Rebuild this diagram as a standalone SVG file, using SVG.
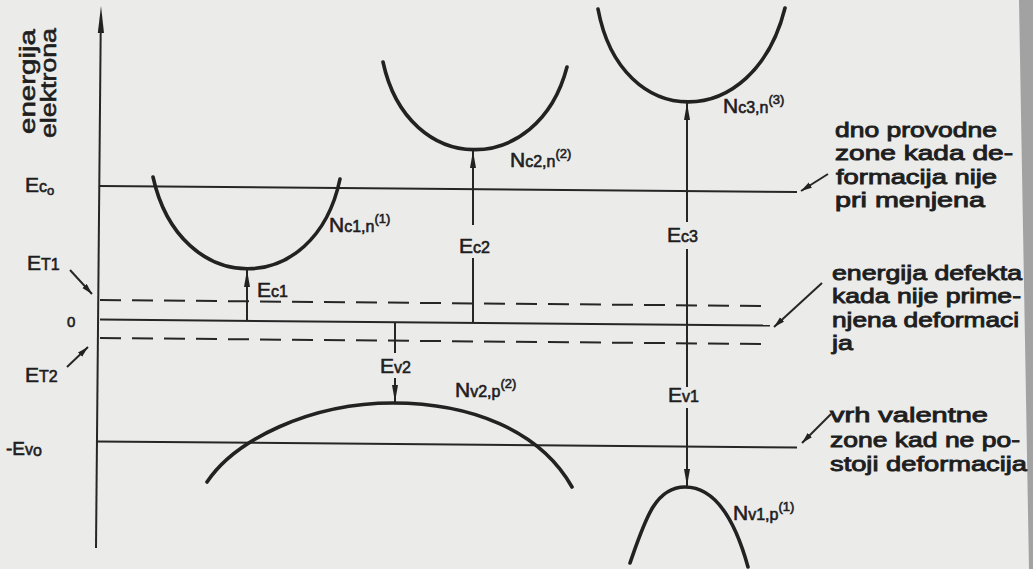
<svg xmlns="http://www.w3.org/2000/svg" width="1033" height="569" viewBox="0 0 1033 569">
<defs>
<style>
.ln{stroke:#262626;stroke-width:2;fill:none}
.ds{stroke-dasharray:21 11}
.cv{stroke:#222;stroke-width:3.6;fill:none;stroke-linecap:round}
.ar{stroke:#262626;stroke-width:2;fill:none}
.t{font-family:"Liberation Sans",Arial,sans-serif;fill:#1e1e1e;stroke:#1e1e1e;stroke-width:0.6}
.big{font-size:21px;stroke-width:0.9}
.E{font-size:21px}
.s{font-size:16px}
.sup{font-size:13px}
.z{font-size:15px}
</style>
<marker id="av" markerUnits="userSpaceOnUse" markerWidth="18" markerHeight="8" refX="17" refY="3.5" orient="auto">
<path d="M0,0.5 L17,3.5 L0,6.5 z" fill="#222"/>
</marker>
<marker id="as" markerUnits="userSpaceOnUse" markerWidth="12" markerHeight="7" refX="11" refY="3" orient="auto">
<path d="M0,0 L11,3 L0,6 z" fill="#222"/>
</marker>
</defs>
<rect width="1033" height="569" fill="#ebebea"/>
<polygon points="1019,0 1033,0 1033,569 1029,569" fill="#a2a2a2"/>

<g id="axis">
<path class="ln" d="M96,548 L100.7,30"/>
<polygon points="101,6 97.8,33 104,33" fill="#222"/>
<text class="t E" transform="translate(35,134) rotate(-90)" style="font-size:22px" textLength="105" lengthAdjust="spacingAndGlyphs">energija</text>
<text class="t E" transform="translate(56,138) rotate(-90)" style="font-size:22px" textLength="110" lengthAdjust="spacingAndGlyphs">elektrona</text>
</g>

<g id="levels">
<path class="ln" d="M100,186 L797,192"/>
<path class="ln ds" d="M100,300 L762,306"/>
<path class="ln" d="M100,319.5 L770,325.5"/>
<path class="ln ds" d="M100,338 L762,344"/>
<path class="ln" d="M97,441.5 L797,447.5"/>
<text class="t E" x="25" y="192">E<tspan class="s">c</tspan><tspan class="sup" dy="3">o</tspan></text>
<text class="t E" x="27" y="270">E<tspan class="s">T1</tspan></text>
<text class="t z" x="67" y="327">0</text>
<text class="t E" x="25" y="382">E<tspan class="s">T2</tspan></text>
<text class="t E" x="6" y="455" style="font-size:19px">-E<tspan class="s">v</tspan><tspan class="s" dy="1">o</tspan></text>
</g>

<g id="band-c1">
<path class="cv" d="M153,177 C180,299 315,299 340,179"/>
<text class="t E" x="329" y="232">N<tspan class="s">c1,n</tspan><tspan class="sup" dy="-9">(1)</tspan></text>
</g>
<g id="band-c2">
<path class="cv" d="M383,62 C408,178 538,178 567,67"/>
<text class="t E" x="510" y="167">N<tspan class="s">c2,n</tspan><tspan class="sup" dy="-9">(2)</tspan></text>
</g>
<g id="band-c3">
<path class="cv" d="M598,9 C621,133 754,133 785,8"/>
<text class="t E" x="723" y="113">N<tspan class="s">c3,n</tspan><tspan class="sup" dy="-9">(3)</tspan></text>
</g>
<g id="band-v2">
<path class="cv" d="M207,482 C235,440 310,403 393,403 C470,403 540,430 572,487"/>
<text class="t E" x="455" y="397">N<tspan class="s">v2,p</tspan><tspan class="sup" dy="-9">(2)</tspan></text>
</g>
<g id="band-v1">
<path class="cv" d="M630,563 C645,520 655,487 685,487 C715,487 735,520 748,567"/>
<text class="t E" x="733" y="520">N<tspan class="s">v1,p</tspan><tspan class="sup" dy="-9">(1)</tspan></text>
</g>

<g id="connectors">
<path class="ar" d="M247,320 L247,270" marker-end="url(#av)"/>
<path class="ar" d="M473,322 L473,258 M473,225 L473,151" marker-end="url(#av)"/>
<path class="ar" d="M687,387 L687,249 M687,222 L687,103" marker-end="url(#av)"/>
<path class="ar" d="M687,408 L687,486" marker-end="url(#av)"/>
<path class="ar" d="M395,322 L395,353 M395,378 L395,402" marker-end="url(#av)"/>
<path class="ar" d="M70,270 L92,294" marker-end="url(#as)"/>
<path class="ar" d="M67,367 L88,347" marker-end="url(#as)"/>
<path class="ar" d="M828,174 L801,191" marker-end="url(#as)"/>
<path class="ar" d="M822,283 L774,327" marker-end="url(#as)"/>
<path class="ar" d="M831,414 L802,443" marker-end="url(#as)"/>
</g>

<g id="gap-labels">
<text class="t E" x="257" y="297">E<tspan class="s">c1</tspan></text>
<text class="t E" x="459" y="253">E<tspan class="s">c2</tspan></text>
<text class="t E" x="667" y="242">E<tspan class="s">c3</tspan></text>
<text class="t E" x="668" y="402">E<tspan class="s">v1</tspan></text>
<text class="t E" x="380" y="373">E<tspan class="s">v2</tspan></text>
</g>

<g id="note-conduction">
<text class="t big" x="835" y="137" textLength="162" lengthAdjust="spacingAndGlyphs">dno provodne</text>
<text class="t big" x="835" y="160" textLength="178" lengthAdjust="spacingAndGlyphs">zone kada de-</text>
<text class="t big" x="836" y="184" textLength="161" lengthAdjust="spacingAndGlyphs">formacija nije</text>
<text class="t big" x="835" y="207" textLength="150" lengthAdjust="spacingAndGlyphs">pri menjena</text>
</g>
<g id="note-defect">
<text class="t big" x="832" y="280" textLength="190" lengthAdjust="spacingAndGlyphs">energija defekta</text>
<text class="t big" x="832" y="303" textLength="189" lengthAdjust="spacingAndGlyphs">kada nije prime-</text>
<text class="t big" x="832" y="327" textLength="187" lengthAdjust="spacingAndGlyphs">njena deformaci</text>
<text class="t big" x="832" y="350" textLength="21" lengthAdjust="spacingAndGlyphs">ja</text>
</g>
<g id="note-valence">
<text class="t big" x="830" y="422" textLength="158" lengthAdjust="spacingAndGlyphs">vrh valentne</text>
<text class="t big" x="830" y="447" textLength="190" lengthAdjust="spacingAndGlyphs">zone kad ne po-</text>
<text class="t big" x="830" y="471" textLength="197" lengthAdjust="spacingAndGlyphs">stoji deformacija</text>
</g>
</svg>
